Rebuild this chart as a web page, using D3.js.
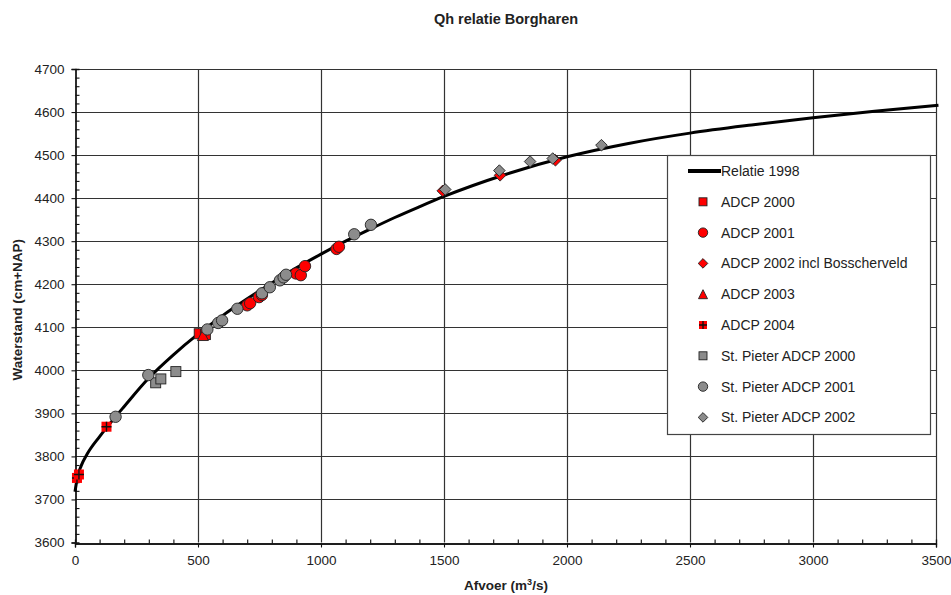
<!DOCTYPE html>
<html>
<head>
<meta charset="utf-8">
<script src="https://cdn.jsdelivr.net/npm/d3@7"></script>
<style>
  html, body { margin: 0; padding: 0; background: #fff; }
  svg { display: block; }
  text { font-family: "Liberation Sans", Arial, sans-serif; fill: #222; }
</style>
</head>
<body>
<svg id="chart" width="951" height="595"></svg>
<script>
// Q-h rating curve "Relatie 1998" (discharge m3/s, water level cm+NAP)
const curveQ = [0, 10, 25, 50, 100, 150, 200, 300, 400, 500, 600, 700, 800, 900, 1000, 1100, 1200, 1300, 1400, 1500, 1750, 2000, 2250, 2500, 2750, 3000, 3250, 3510];
const curveH = [3718, 3752, 3778, 3806, 3846, 3882, 3916, 3982, 4036, 4084, 4127, 4166, 4203, 4238, 4270, 4300, 4328, 4355, 4380, 4404, 4455, 4496, 4527, 4551, 4570, 4587, 4602, 4616];

// Measurements per campaign: [Q, h]
const adcp2000 = [[505, 4085], [530, 4083]];
const adcp2001 = [[700, 4151], [712, 4156], [748, 4170], [760, 4175], [898, 4225], [918, 4221], [935, 4242], [1063, 4282], [1073, 4287]];
const adcp2002 = [[1495, 4417], [1728, 4453], [1953, 4488]];
const adcp2003 = [[520, 4082]];
const adcp2004 = [[8, 3750], [16, 3758], [128, 3869]];
const stPieter2000 = [[328, 3971], [349, 3980], [410, 3997]];
const stPieter2001 = [[165, 3892], [298, 3989], [538, 4095], [582, 4110], [598, 4116], [660, 4143], [760, 4179], [792, 4193], [833, 4209], [848, 4216], [858, 4222], [1135, 4316], [1203, 4338]];
const stPieter2002 = [[1505, 4420], [1725, 4464], [1850, 4485], [1942, 4492], [2140, 4523]];

const xTickValues = [0, 500, 1000, 1500, 2000, 2500, 3000, 3500];
const yTickValues = [3600, 3700, 3800, 3900, 4000, 4100, 4200, 4300, 4400, 4500, 4600, 4700];

const titleText = "Qh relatie Borgharen";
const yTitle = "Waterstand (cm+NAP)";

const seriesNames = ["ADCP 2000", "ADCP 2001", "ADCP 2002 incl Bosscherveld", "ADCP 2003", "ADCP 2004",
  "St. Pieter ADCP 2000", "St. Pieter ADCP 2001", "St. Pieter ADCP 2002"];
const seriesData = [adcp2000, adcp2001, adcp2002, adcp2003, adcp2004, stPieter2000, stPieter2001, stPieter2002];
const seriesShapes = ["square", "circle", "diamond", "triangle", "cross", "square", "circle", "diamond"];
const seriesFill = ["#ff0000", "#ff0000", "#ff0000", "#ff0000", "#ff0000", "#8c8c8c", "#8c8c8c", "#8c8c8c"];

const svg = d3.select("#chart");

const x = d3.scaleLinear().domain([0, 3500]).range([75, 936]);
const y = d3.scaleLinear().domain([3600, 4700]).range([542.5, 69]);

// gridlines
const grid = svg.append("g");
grid.selectAll("line.h").data(yTickValues.slice(1)).join("line")
  .attr("x1", x(0)).attr("x2", x(3500))
  .attr("y1", d => Math.round(y(d)) + 0.5).attr("y2", d => Math.round(y(d)) + 0.5)
  .attr("stroke", "#333").attr("stroke-width", 1.2);
grid.selectAll("line.v").data(xTickValues.slice(1)).join("line")
  .attr("y1", y(3600)).attr("y2", y(4700))
  .attr("x1", d => Math.round(x(d)) + 0.5).attr("x2", d => Math.round(x(d)) + 0.5)
  .attr("stroke", "#333").attr("stroke-width", 1.2);

// axes: major ticks outside, minor ticks inside
const yAxis = svg.append("g").attr("transform", `translate(${Math.round(x(0)) + 0.5},0)`)
  .call(d3.axisLeft(y).tickValues(yTickValues).tickSize(4).tickPadding(7).tickFormat(d3.format("d")));
const yMinor = svg.append("g").attr("transform", `translate(${Math.round(x(0)) + 0.5},0)`)
  .call(d3.axisLeft(y).tickValues(d3.range(3600, 4701, 20).filter(v => v % 100 !== 0)).tickSize(-4).tickFormat(""));
const xAxis = svg.append("g").attr("transform", `translate(0,${Math.round(y(3600)) + 0.5})`)
  .call(d3.axisBottom(x).tickValues(xTickValues).tickSize(4).tickPadding(8).tickFormat(d3.format("d")));
const xMinor = svg.append("g").attr("transform", `translate(0,${Math.round(y(3600)) + 0.5})`)
  .call(d3.axisBottom(x).tickValues(d3.range(0, 3501, 100).filter(v => v % 500 !== 0)).tickSize(-4).tickFormat(""));
[yAxis, yMinor, xAxis, xMinor].forEach(g => {
  g.select(".domain").attr("stroke", "#111").attr("stroke-width", 1.3);
  g.selectAll(".tick line").attr("stroke", "#111").attr("stroke-width", 1.1);
  g.selectAll(".tick text").style("font-size", "13.5px").attr("fill", "#222")
    .style("font-family", "'Liberation Sans', Arial, sans-serif");
});

// rating curve
const line = d3.line().x(d => x(d[0])).y(d => y(d[1])).curve(d3.curveMonotoneX);
svg.append("path").datum(curveQ.map((q, i) => [q, curveH[i]]))
  .attr("d", line).attr("fill", "none").attr("stroke", "#000").attr("stroke-width", 3);

// marker painter
function drawMarker(g, shape, fill, cx, cy, s) {
  if (shape === "square") {
    g.append("rect").attr("x", cx - s / 2).attr("y", cy - s / 2).attr("width", s).attr("height", s)
      .attr("fill", fill).attr("stroke", "#222").attr("stroke-width", 0.9);
  } else if (shape === "circle") {
    g.append("circle").attr("cx", cx).attr("cy", cy).attr("r", s / 2 + 0.7)
      .attr("fill", fill).attr("stroke", "#222").attr("stroke-width", 0.9);
  } else if (shape === "diamond") {
    const r = s / 2 + 0.8;
    g.append("path").attr("d", `M${cx},${cy - r}L${cx + r},${cy}L${cx},${cy + r}L${cx - r},${cy}Z`)
      .attr("fill", fill).attr("stroke", "#222").attr("stroke-width", 0.9);
  } else if (shape === "triangle") {
    const r = s / 2 + 0.5;
    g.append("path").attr("d", `M${cx},${cy - r}L${cx + r},${cy + r}L${cx - r},${cy + r}Z`)
      .attr("fill", fill).attr("stroke", "#222").attr("stroke-width", 0.9);
  } else if (shape === "cross") {
    g.append("rect").attr("x", cx - s / 2).attr("y", cy - s / 2).attr("width", s).attr("height", s)
      .attr("fill", fill);
    g.append("path").attr("d", `M${cx - s / 2},${cy}H${cx + s / 2}M${cx},${cy - s / 2}V${cy + s / 2}`)
      .attr("stroke", "#111").attr("stroke-width", 1.4);
  }
}

const marks = svg.append("g");
seriesData.forEach((data, i) => {
  data.forEach(d => drawMarker(marks, seriesShapes[i], seriesFill[i], x(d[0]), y(d[1]), 10));
});

// legend
const lg = svg.append("g");
const lx = 667, ly = 155, lw = 263, lh = 279;
lg.append("rect").attr("x", lx + 0.5).attr("y", ly + 0.5).attr("width", lw).attr("height", lh)
  .attr("fill", "#fff").attr("stroke", "#444").attr("stroke-width", 1.2);
const rowY = i => ly + 16 + i * 30.8;
lg.append("line").attr("x1", lx + 21).attr("x2", lx + 54).attr("y1", rowY(0)).attr("y2", rowY(0))
  .attr("stroke", "#000").attr("stroke-width", 4);
lg.append("text").attr("x", lx + 54).attr("y", rowY(0)).attr("dy", "0.36em")
  .style("font-size", "14px").text("Relatie 1998");
seriesNames.forEach((name, i) => {
  drawMarker(lg, seriesShapes[i], seriesFill[i], lx + 36, rowY(i + 1), 8);
  lg.append("text").attr("x", lx + 54).attr("y", rowY(i + 1)).attr("dy", "0.36em")
    .style("font-size", "14px").text(name);
});

// titles
svg.append("text").attr("x", 506).attr("y", 24).attr("text-anchor", "middle")
  .style("font-size", "14.5px").style("font-weight", "bold").text(titleText);
svg.append("text").attr("transform", `translate(22,${(y(3600) + y(4700)) / 2 + 4}) rotate(-90)`)
  .attr("text-anchor", "middle").style("font-size", "13.5px").style("font-weight", "bold").text(yTitle);
const xl = svg.append("text").attr("x", 506).attr("y", 590).attr("text-anchor", "middle")
  .style("font-size", "13.5px").style("font-weight", "bold");
xl.append("tspan").text("Afvoer (m");
xl.append("tspan").attr("dy", -5).style("font-size", "9px").text("3");
xl.append("tspan").attr("dy", 5).text("/s)");
</script>
</body>
</html>
